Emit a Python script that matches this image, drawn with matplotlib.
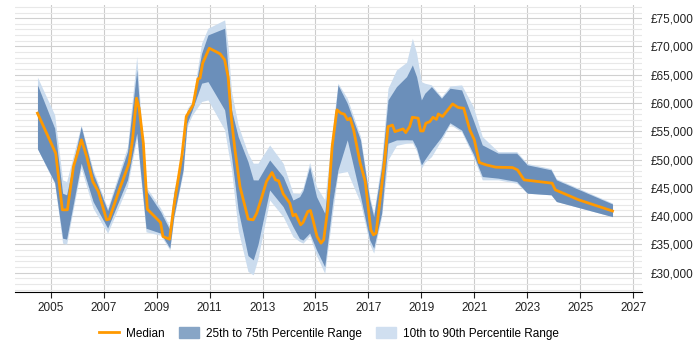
import numpy as np
import matplotlib.pyplot as plt
from matplotlib.patches import Patch
from matplotlib.lines import Line2D
from matplotlib.ticker import FuncFormatter, MultipleLocator

plt.rcParams['font.family'] = ['Liberation Sans', 'DejaVu Sans']

# median salary
med_years = [2004.5, 2005.19, 2005.44, 2005.63, 2005.86, 2006.16, 2006.36, 2006.59, 2006.8,
             2007.11, 2007.21, 2007.59, 2007.96, 2008.09, 2008.24, 2008.34, 2008.5, 2008.65,
             2009.15, 2009.24, 2009.49, 2009.65, 2009.96, 2010.12, 2010.38, 2010.56, 2010.64,
             2010.74, 2010.99, 2011.4, 2011.57, 2011.7, 2011.83, 2011.96, 2012.15, 2012.46,
             2012.65, 2012.78, 2012.96, 2013.15, 2013.36, 2013.49, 2013.61, 2013.78, 2014.03,
             2014.15, 2014.25, 2014.44, 2014.53, 2014.71, 2014.81, 2014.9, 2015.06, 2015.21,
             2015.31, 2015.46, 2015.63, 2015.81, 2015.96, 2016.09, 2016.21, 2016.31, 2016.44,
             2016.69, 2016.88, 2017.09, 2017.19, 2017.29, 2017.44, 2017.63, 2017.74, 2017.91,
             2018.0, 2018.31, 2018.41, 2018.56, 2018.66, 2018.88, 2018.97, 2019.07, 2019.17,
             2019.32, 2019.44, 2019.57, 2019.64, 2019.8, 2020.18, 2020.39, 2020.6,
             2020.83, 2021.0, 2021.19, 2021.44, 2021.81, 2022.44, 2022.63, 2022.88, 2023.94,
             2024.06, 2024.94, 2026.22]
median = [58200, 51100, 41100, 41100, 48760, 53480, 50530, 46100, 44340,
          39330, 39450, 44630, 49350, 53480, 60850, 59080, 52890, 41210,
          38850, 36380, 35910, 41690, 50830, 57610, 59670, 64270, 64390,
          67040, 69690, 68690, 67620, 64660, 57000, 51690, 45190, 39450,
          39330, 40510, 43160, 46110, 47700, 46400, 46230, 43930, 42280,
          40040, 40330, 38440, 38850, 40800, 40980, 39450, 36380, 35200,
          35790, 41100, 52300, 58790, 58200, 58020, 57020, 57310, 55250,
          49350, 46110, 37560, 36670, 36970, 42870, 50530, 55820, 56100,
          54930, 55410, 54760, 55840, 57480, 57310, 55050, 55050, 56420,
          56700, 57480, 57100, 58060, 57610, 59830, 59200, 59070,
          55230, 53500, 49470, 49060, 48640, 48580, 48170, 46400, 45810,
          44630, 42870, 40890]

# percentile bands
band_years = [2004.5, 2005.15, 2005.45, 2005.6, 2006.15, 2006.6, 2007.15, 2007.9, 2008.25,
              2008.6, 2009.15, 2009.5, 2009.65, 2010.0, 2010.15, 2010.35, 2010.7, 2010.94,
              2011.57, 2011.7, 2011.83, 2012.08, 2012.45, 2012.65, 2012.83, 2013.27, 2013.78,
              2014.15, 2014.4, 2014.53, 2014.78, 2015.04, 2015.35, 2015.66, 2015.85, 2016.2,
              2016.7, 2017.05, 2017.2, 2017.5, 2017.74, 2018.06, 2018.44, 2018.66, 2018.82,
              2019.0, 2019.13, 2019.38, 2019.76, 2020.08, 2020.52, 2020.96, 2021.3, 2021.9,
              2022.6, 2023.0, 2023.9, 2024.1, 2026.22]
p90 = [64560, 57900, 46400, 46100, 56100, 48200, 41400, 52300, 68220,
       45200, 41400, 38100, 44600, 51700, 59000, 60300, 70580, 73230,
       74700, 70000, 62000, 56100, 51100, 49350, 49350, 52570, 49330,
       44080, 44000, 45000, 49500, 45200, 42840, 56000, 63500, 60850,
       54100, 43500, 40500, 49900, 62610, 65850, 67200, 71460, 68800,
       63780, 63500, 63210, 61100, 63000, 63200, 59350, 54070, 51400,
       51400, 49300, 48400, 46600, 42300]
p75 = [63200, 55540, 44040, 43750, 55840, 47580, 40980, 51420, 65860,
       44630, 40800, 37560, 44040, 51120, 58490, 59970, 68810, 72040,
       73230, 65850, 58770, 54050, 49620, 46400, 46380, 49920, 46970,
       42840, 43430, 44500, 48730, 43430, 40490, 54680, 63210, 59970,
       53480, 42840, 39920, 48760, 60540, 62890, 64660, 66730, 64660,
       60540, 61730, 62890, 60840, 62610, 62310, 57000, 52590, 51120,
       51120, 49060, 48170, 46400, 42130]
p25 = [51890, 45930, 36080, 35910, 49350, 42570, 37850, 46400, 54660,
       37850, 36970, 34320, 39920, 48170, 56430, 58790, 63500, 63780,
       58770, 54500, 50500, 41070, 33000, 32250, 35000, 44610, 41660,
       38120, 36000, 35760, 37000, 34000, 31030, 42840, 48150, 53480,
       43460, 35760, 34320, 40510, 52880, 53460, 53500, 53460, 52000,
       49040, 50000, 51690, 54000, 56500, 55200, 51000, 46990, 46700,
       46110, 44040, 43750, 42570, 39890]
p10 = [51890, 45700, 35200, 35000, 48500, 41390, 36970, 45300, 53800,
       37200, 36600, 34000, 39500, 47600, 55800, 57900, 60260, 60540,
       55230, 51500, 48150, 37500, 30200, 29600, 32500, 42840, 39890,
       36350, 35500, 35200, 36500, 33000, 29850, 41070, 47560, 47880,
       42300, 35000, 33440, 39900, 49920, 52500, 52900, 53000, 51500,
       48450, 49500, 50500, 53500, 56200, 54900, 50500, 46400, 46400,
       45800, 44040, 43750, 42570, 39890]

fig = plt.figure(figsize=(7, 3.5), dpi=100)
ax = fig.add_axes([0.021, 0.166, 0.896, 0.82])

ax.fill_between(band_years, p10, p90, color='#cbdcee', lw=0)
ax.fill_between(band_years, p25, p75, color='#6b8fba', lw=0)
ax.plot(med_years, median, color='#ff9900', lw=2)

ax.set_xlim(2003.64, 2027.33)
ax.set_ylim(26580, 77350)
ax.set_xticks(range(2005, 2028, 2))
ax.xaxis.set_major_formatter(FuncFormatter(lambda v, p: '%d' % v))
ax.yaxis.set_major_locator(MultipleLocator(5000))
ax.yaxis.set_minor_locator(MultipleLocator(1000))
ax.yaxis.set_major_formatter(FuncFormatter(lambda v, p: '£{:,.0f}'.format(v)))
ax.yaxis.tick_right()
ax.tick_params(axis='y', which='both', length=0, labelsize=8.5, pad=6, colors='#222222')
ax.tick_params(axis='x', length=4, labelsize=8.5, colors='#222222')
ax.grid(axis='x', color='#cccccc', lw=0.8)
ax.grid(axis='y', which='major', color='#d0d0d0', lw=0.8)
ax.grid(axis='y', which='minor', color='#e8e8e8', lw=0.8)
ax.set_axisbelow(True)
for s in ['left', 'right', 'top']:
    ax.spines[s].set_visible(False)
ax.spines['bottom'].set_color('#000000')

handles = [Line2D([], [], color='#ff9900', lw=2),
           Patch(color='#87a5c6'),
           Patch(color='#d0dff0')]
labels = ['Median', '25th to 75th Percentile Range', '10th to 90th Percentile Range']
fig.legend(handles, labels, loc='center', bbox_to_anchor=(0.47, 0.047), ncol=3,
           frameon=False, fontsize=8.5, handlelength=1.7, handleheight=1.0,
           columnspacing=1.2, handletextpad=0.6)

fig.savefig('out.png')
